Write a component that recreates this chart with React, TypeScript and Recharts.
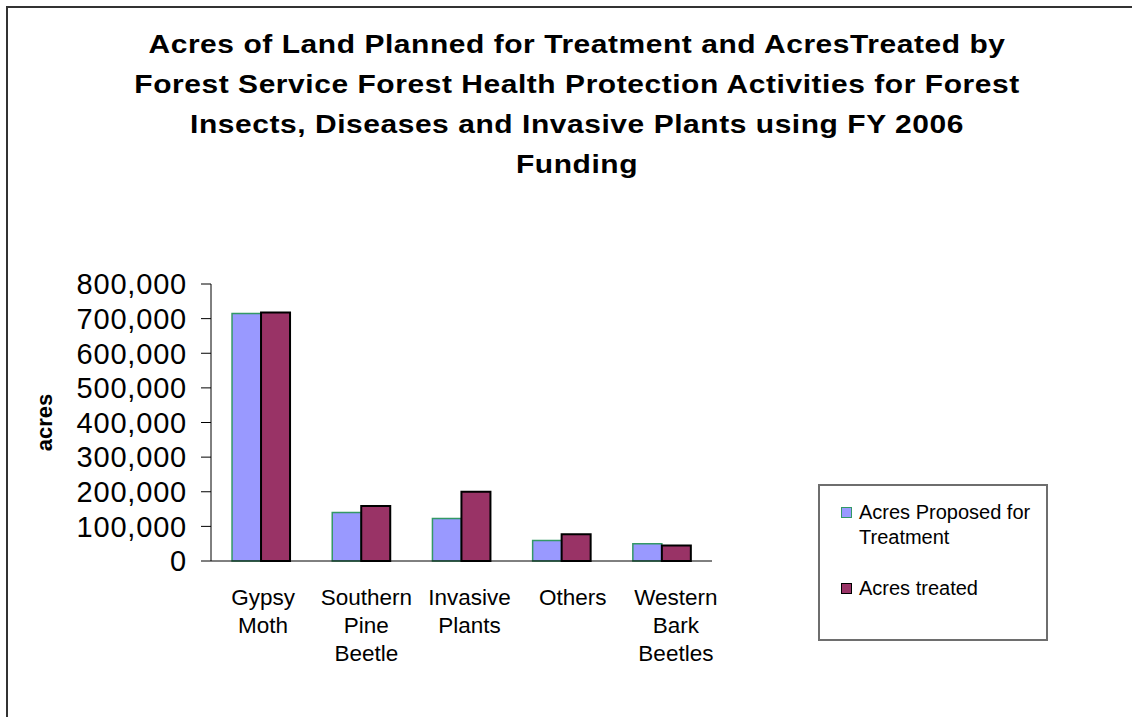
import React from 'react';
import { Bar, BarChart, Legend, XAxis, YAxis } from 'recharts';

const categories = ['Gypsy Moth', 'Southern Pine Beetle', 'Invasive Plants', 'Others', 'Western Bark Beetles'];
const proposed = [715000, 140000, 123000, 59000, 50000];
const treated = [718000, 159000, 200000, 77000, 45000];
const yTicks = [0, 100000, 200000, 300000, 400000, 500000, 600000, 700000, 800000];
const edgeTicks = [0, 1, 2, 3, 4, 5];
const titleLines = [
  'Acres of Land Planned for Treatment and AcresTreated by',
  'Forest Service Forest Health Protection Activities for Forest',
  'Insects, Diseases and Invasive Plants using FY 2006',
  'Funding'
];

const FONT = '"Liberation Sans", Arial, sans-serif';
const PROPOSED_FILL = '#9999FF';
const PROPOSED_STROKE = '#339966';
const TREATED_FILL = '#993366';

const data = categories.map((name, i) => ({ name, proposed: proposed[i], treated: treated[i] }));

// the original labels drift a little to the right of each category centre
function CategoryTick(props: any) {
  const { x, y, payload, index } = props;
  const words = String(payload.value).split(' ');
  const cx = x + 2 + index * 3;
  return (
    <text x={cx} y={y} textAnchor="middle" fontSize={22.5} fontFamily={FONT} fill="#000">
      {words.map((w, i) => (
        <tspan key={w} x={cx} dy={i === 0 ? 44 : 28}>{w}</tspan>
      ))}
    </text>
  );
}

function AcresLabel(props: any) {
  const { viewBox } = props;
  const cy = viewBox.y + viewBox.height / 2;
  return (
    <text
      x={44}
      y={cy}
      transform={`rotate(-90, 44, ${cy})`}
      textAnchor="middle"
      dominantBaseline="central"
      fontSize={22}
      fontWeight="bold"
      fontFamily={FONT}
      fill="#000"
    >
      acres
    </text>
  );
}

function LegendBox() {
  const items = [
    { lines: ['Acres Proposed for', 'Treatment'], fill: PROPOSED_FILL, stroke: PROPOSED_STROKE },
    { lines: ['Acres treated'], fill: TREATED_FILL, stroke: '#000' }
  ];
  return (
    <div style={{ fontFamily: FONT, fontSize: 20, color: '#000', padding: '14px 0 0 21px', boxSizing: 'border-box' }}>
      {items.map((it, i) => (
        <div key={i} style={{ display: 'flex', alignItems: 'flex-start', marginBottom: i === 0 ? 26 : 0 }}>
          <div style={{ width: 9, height: 9, background: it.fill, border: `1.5px solid ${it.stroke}`, marginTop: 7, marginRight: 7, flex: 'none' }} />
          <div style={{ lineHeight: '25px' }}>
            {it.lines.map((l) => (
              <div key={l}>{l}</div>
            ))}
          </div>
        </div>
      ))}
    </div>
  );
}

export default function App(): React.ReactElement {
  return (
    <div style={{ position: 'fixed', left: 0, top: 0, width: 1132, height: 717, background: '#fff', overflow: 'hidden' }}>
      <div
        style={{
          position: 'absolute', left: 6, top: 6, width: 1300, height: 900,
          borderTop: '2px solid #333', borderLeft: '2px solid #333'
        }}
      />
      <div
        style={{
          position: 'absolute', left: 0, top: 24, width: 1154, textAlign: 'center',
          fontFamily: FONT, fontWeight: 'bold', fontSize: 26.5, lineHeight: '40px', color: '#000', letterSpacing: 0.5,
          transform: 'scaleX(1.13)', transformOrigin: '577px 0'
        }}
      >
        {titleLines.map((l) => (
          <div key={l}>{l}</div>
        ))}
      </div>
      <div style={{ position: 'absolute', left: 0, top: 0 }}>
        <BarChart
          width={1132}
          height={717}
          data={data}
          margin={{ top: 284, right: 420, bottom: 56, left: 0 }}
          barCategoryGap="21%"
          barGap={0}
        >
          <XAxis
            xAxisId="edges"
            type="number"
            domain={[0, 5]}
            ticks={edgeTicks}
            allowDataOverflow
            height={0}
            tick={false}
            axisLine={false}
            tickLine={{ stroke: '#000' }}
            tickSize={8}
          />
          <XAxis
            xAxisId="cat"
            dataKey="name"
            height={100}
            axisLine={{ stroke: '#000' }}
            tickLine={false}
            tickSize={0}
            tickMargin={0}
            tick={<CategoryTick />}
            interval={0}
          />
          <YAxis
            width={211}
            domain={[0, 800000]}
            ticks={yTicks}
            interval={0}
            tickFormatter={(v: number) => v.toLocaleString('en-US')}
            tick={{ fill: '#000', fontSize: 29, fontFamily: FONT, letterSpacing: 0.8 }}
            tickSize={10}
            tickMargin={14}
            axisLine={{ stroke: '#000' }}
            tickLine={{ stroke: '#000' }}
            label={<AcresLabel />}
          />
          <Legend
            layout="horizontal"
            verticalAlign="middle"
            align="center"
            content={<LegendBox />}
            wrapperStyle={{ left: 818, top: 484, width: 230, height: 157, border: '2px solid #6e6e6e', boxSizing: 'border-box', background: '#fff' }}
          />
          <Bar xAxisId="cat" dataKey="proposed" name="Acres Proposed for Treatment" fill={PROPOSED_FILL} stroke={PROPOSED_STROKE} strokeWidth={1.5} isAnimationActive={false} />
          <Bar xAxisId="cat" dataKey="treated" name="Acres treated" fill={TREATED_FILL} stroke="#000" strokeWidth={2} isAnimationActive={false} />
        </BarChart>
      </div>
    </div>
  );
}
